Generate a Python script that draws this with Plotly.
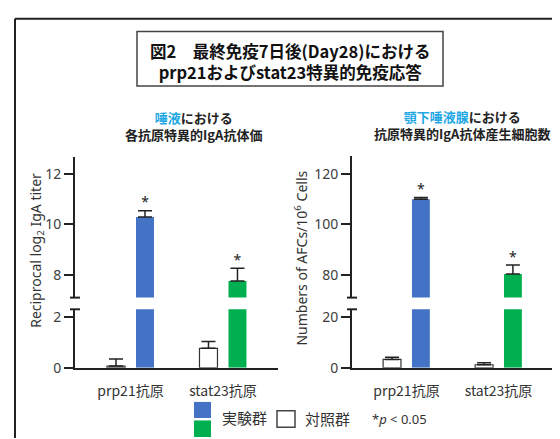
import plotly.graph_objects as go

# ---------------- data ----------------
categories = ["prp21抗原", "stat23抗原"]

titer_ctrl = [0.07, 0.77]
titer_ctrl_err = [0.28, 0.27]
titer_exp = [10.3, 7.77]
titer_exp_err = [0.24, 0.5]

afc_ctrl = [3.3, 1.2]
afc_ctrl_err = [0.9, 0.8]
afc_exp = [110.0, 80.5]
afc_exp_err = [0.6, 3.5]

sig_exp = ["*", "*"]

left_lower_ticks = [0, 2]
left_upper_ticks = [8, 10, 12]
right_lower_ticks = [0, 20]
right_upper_ticks = [80, 100, 120]

exp_colors = ["#4472C4", "#00B050"]
ctrl_color = "#FFFFFF"

# ---------------- layout helpers ----------------
W, H = 560, 439
def px(x):
    return x / W
def py(y):
    return 1 - y / H

FONT = "Noto Sans, Noto Sans CJK JP, sans-serif"
CJK = "Noto Sans CJK JP, Noto Sans, sans-serif"
TXT = "#333333"

fig = go.Figure()


def add_panel(xa, ylo, yhi, ctrl, ctrl_err, exp, exp_err):
    for ya in (ylo, yhi):
        fig.add_trace(go.Bar(
            x=categories, y=ctrl, xaxis=xa, yaxis=ya, offsetgroup="c",
            marker=dict(color=ctrl_color, line=dict(color="#333333", width=1.2)),
            error_y=dict(type="data", array=ctrl_err, arrayminus=[0] * len(ctrl),
                         symmetric=False, color="#222222", thickness=1.5, width=7),
        ))
        fig.add_trace(go.Bar(
            x=categories, y=exp, xaxis=xa, yaxis=ya, offsetgroup="e",
            marker=dict(color=exp_colors, line=dict(width=0)),
            error_y=dict(type="data", array=exp_err, arrayminus=[0] * len(exp),
                         symmetric=False, color="#222222", thickness=1.5, width=7),
        ))
    # significance markers (upper part), grouped like the bars
    fig.add_trace(go.Scatter(
        x=categories, y=ctrl, xaxis=xa, yaxis=yhi, offsetgroup="c",
        mode="markers", marker=dict(opacity=0, size=1),
    ))
    fig.add_trace(go.Scatter(
        x=categories, y=[m + e for m, e in zip(exp, exp_err)], xaxis=xa, yaxis=yhi,
        offsetgroup="e", mode="text", text=sig_exp, textposition="top center",
        textfont=dict(size=14, color="#222222", family=FONT), cliponaxis=False,
    ))


add_panel("x", "y", "y2", titer_ctrl, titer_ctrl_err, titer_exp, titer_exp_err)
add_panel("x2", "y3", "y4", afc_ctrl, afc_ctrl_err, afc_exp, afc_exp_err)

xcommon = dict(type="category", showline=True, linecolor="#222222", linewidth=2,
               ticks="outside", ticklen=9, tickcolor="rgba(0,0,0,0)",
               tickfont=dict(family=CJK, size=14, color=TXT), showgrid=False,
               zeroline=False, fixedrange=True)
ycommon = dict(showline=True, linecolor="#222222", linewidth=2, ticks="outside",
               ticklen=9, tickwidth=1.5, tickcolor="#222222",
               tickfont=dict(family=FONT, size=14, color="#404040"),
               showgrid=False, zeroline=False, fixedrange=True)

fig.update_layout(
    width=W, height=H,
    margin=dict(l=0, r=0, t=0, b=0),
    paper_bgcolor="white", plot_bgcolor="white",
    showlegend=False,
    barmode="group", bargap=0.373, bargroupgap=0.38,
    scattermode="group", scattergap=0.373,
    xaxis=dict(domain=[px(67), px(270)], anchor="y", range=[-0.6, 1.595], **xcommon),
    xaxis2=dict(domain=[px(344), px(548)], anchor="y3", range=[-0.592, 1.625], **xcommon),
    yaxis=dict(domain=[py(367), py(307)], anchor="x", range=[0, 60 / 26],
               tickvals=left_lower_ticks, **ycommon),
    yaxis2=dict(domain=[py(295), py(151)], anchor="x", range=[8 - 23 / 26, 12 + 17 / 26],
                tickvals=left_upper_ticks, **ycommon),
    yaxis3=dict(domain=[py(367), py(307)], anchor="x2", range=[0, 60 / 2.6],
                tickvals=right_lower_ticks, **ycommon),
    yaxis4=dict(domain=[py(295), py(150)], anchor="x2", range=[80 - 23 / 2.6, 120 + 18 / 2.6],
                tickvals=right_upper_ticks, **ycommon),
)

shapes = []
# outer frame
shapes.append(dict(type="line", xref="paper", yref="paper", x0=px(7), x1=px(7),
                   y0=py(9), y1=py(439), line=dict(color="#222222", width=2)))
shapes.append(dict(type="line", xref="paper", yref="paper", x0=px(7), x1=px(560),
                   y0=py(9), y1=py(9), line=dict(color="#222222", width=2)))
# title box
shapes.append(dict(type="rect", xref="paper", yref="paper", x0=px(129), x1=px(435),
                   y0=py(78), y1=py(22), line=dict(color="#444444", width=1.5)))
# axis break marks
for ax_x in (67, 344):
    for yy in (295, 307):
        shapes.append(dict(type="line", xref="paper", yref="paper",
                           x0=px(ax_x - 5), x1=px(ax_x + 5), y0=py(yy), y1=py(yy),
                           line=dict(color="#222222", width=2)))
# legend swatches
shapes.append(dict(type="rect", xref="paper", yref="paper", x0=px(186), x1=px(203),
                   y0=py(418.5), y1=py(402), line=dict(width=0), fillcolor=exp_colors[0]))
shapes.append(dict(type="rect", xref="paper", yref="paper", x0=px(186), x1=px(203),
                   y0=py(438), y1=py(421), line=dict(width=0), fillcolor=exp_colors[1]))
shapes.append(dict(type="rect", xref="paper", yref="paper", x0=px(269), x1=px(287),
                   y0=py(428), y1=py(411), line=dict(color="#444444", width=1.5),
                   fillcolor="white"))
fig.update_layout(shapes=shapes)

CYAN = "#1FA8E4"
ann = []
def text(x, y, s, size, xanchor="center", family=CJK, color=TXT, angle=0):
    ann.append(dict(xref="paper", yref="paper", x=px(x), y=py(y), text=s,
                    showarrow=False, xanchor=xanchor, yanchor="middle",
                    textangle=angle, font=dict(family=family, size=size, color=color)))

text(282, 52.5, "<b>図2　最終免疫7日後(Day28)における<br>prp21およびstat23特異的免疫応答</b>",
     16.5, color="#111111")
text(185, 118.5, f"<b><span style='color:{CYAN}'>唾液</span>における<br>各抗原特異的IgA抗体価</b>",
     13, color="#222222")
text(454, 117.5,
     f"<b><span style='color:{CYAN}'>顎下唾液腺</span>における<br>抗原特異的IgA抗体産生細胞数</b>",
     13, color="#222222")
text(29, 247, "Reciprocal log<sub>2</sub> IgA titer", 14, family=FONT, angle=-90)
text(293, 255, "Numbers of AFCs/10<sup>6</sup> Cells", 14, family=FONT, angle=-90)
text(212, 418, "実験群", 15, xanchor="left")
text(295, 419, "対照群", 15, xanchor="left")
text(362, 419, "*<i>p</i> < 0.05", 13, xanchor="left", family=FONT)
fig.update_layout(annotations=ann)

fig.write_html("out.html")
